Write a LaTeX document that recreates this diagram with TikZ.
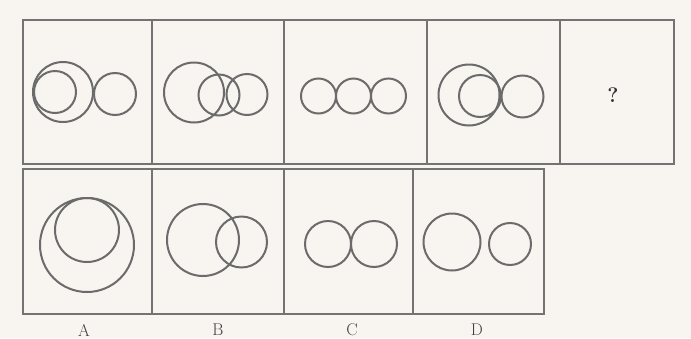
\documentclass[tikz,border=0pt]{standalone}
\begin{document}
\begin{tikzpicture}[x=1pt,y=-1pt,
  frame/.style={draw=black!55,line width=1.2pt},
  ring/.style={draw=black!58,line width=2pt},
  lbl/.style={font=\fontsize{17}{17}\selectfont,text=black!75,inner sep=0pt},
  qm/.style={font=\fontsize{21}{21}\selectfont\bfseries,text=black!80,inner sep=0pt}]
\fill[fill={rgb,255:red,248;green,245;blue,240}] (0,0) rectangle (691,338);
\useasboundingbox (0,0) rectangle (691,338);
% top row frame
\draw[frame] (23,20) rectangle (674,164);
\foreach \x in {152,284,427,560} \draw[frame] (\x,20) -- (\x,164);
% bottom row frame
\draw[frame] (23,169) rectangle (544,314);
\foreach \x in {152,284,413} \draw[frame] (\x,169) -- (\x,314);
% top panel 1
\draw[ring] (63,92) circle (30);
\draw[ring] (55,92) circle (21);
\draw[ring] (115,94) circle (21);
% top panel 2
\draw[ring] (194,92.5) circle (30);
\draw[ring] (219,95) circle (20.5);
\draw[ring] (247,94.5) circle (20.5);
% top panel 3
\draw[ring] (318.5,96) circle (17.5);
\draw[ring] (353.5,96) circle (17.5);
\draw[ring] (388.5,96) circle (17.5);
% top panel 4
\draw[ring] (469,95) circle (30.5);
\draw[ring] (480,96) circle (21);
\draw[ring] (522.5,96.5) circle (21);
% question mark
\node[qm] (q) at (613,95) {?};
% option A
\draw[ring] (87,245) circle (47);
\draw[ring] (87,230) circle (32);
% option B
\draw[ring] (203,240) circle (36);
\draw[ring] (241.5,242) circle (25.5);
% option C
\draw[ring] (328,244) circle (23);
\draw[ring] (374,244) circle (23);
% option D
\draw[ring] (452,242) circle (28.5);
\draw[ring] (510,244) circle (21);
% labels
\node[lbl] (la) at (84,330) {A};
\node[lbl] (lb) at (218,330) {B};
\node[lbl] (lc) at (352,330) {C};
\node[lbl] (ld) at (477,330) {D};
\end{tikzpicture}
\end{document}
